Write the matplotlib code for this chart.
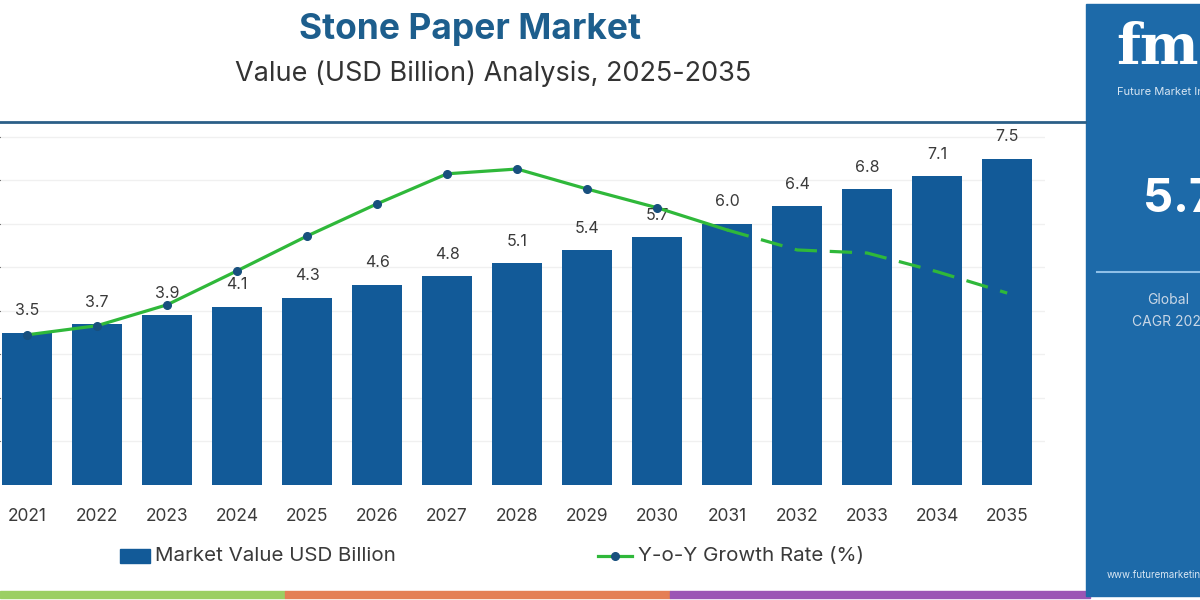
import matplotlib
matplotlib.use("Agg")
import matplotlib.pyplot as plt
from matplotlib.patches import Rectangle
from matplotlib.lines import Line2D

plt.rcParams['font.family'] = ['Inter', 'DejaVu Sans']

years = ["2021", "2022", "2023", "2024", "2025", "2026", "2027", "2028",
         "2029", "2030", "2031", "2032", "2033", "2034", "2035"]
market_value = [3.5, 3.7, 3.9, 4.1, 4.3, 4.6, 4.8, 5.1, 5.4, 5.7, 6.0, 6.4, 6.8, 7.1, 7.5]
yoy_growth = [3.45, 3.66, 4.14, 4.92, 5.72, 6.46, 7.15, 7.26, 6.80, 6.37,
              5.86, 5.40, 5.33, 4.90, 4.41]
value_labels = ["3.5", "3.7", "3.9", "4.1", "4.3", "4.6", "4.8", "5.1", "5.4",
                "5.7", "6.0", "6.4", "6.8", "7.1", "7.5"]
solid_end = 10  # index where the forecast (dashed) segment begins

BAR = "#125a98"
GREEN = "#2fb83a"
MARK = "#18507e"
TXT = "#3a3a3a"

W, H = 1200, 600
fig = plt.figure(figsize=(12, 6), dpi=100)

def fx(px):
    return px / W

def fy(py):
    return 1 - py / H

# main axes
ax = fig.add_axes([0, fy(485), fx(1045), fy(122) - fy(485)])
x = list(range(len(years)))
ax.bar(x, market_value, width=0.71, color=BAR, zorder=2)
ax.set_xlim(-0.386, 14.54)
ax.set_ylim(0, 8.34)
ax.set_yticks(range(1, 9))
ax.yaxis.grid(True, color="#f0f0f0", linewidth=1, zorder=0)
ax.set_axisbelow(True)
ax.tick_params(axis='y', left=False, labelleft=False)
ax.tick_params(axis='x', bottom=False, labelsize=12.5, labelcolor=TXT, pad=13)
ax.set_xticks(x)
ax.set_xticklabels(years)
for s in ax.spines.values():
    s.set_visible(False)
for xi, v, lab in zip(x, market_value, value_labels):
    ax.text(xi, v + 0.33, lab, ha='center', va='bottom', fontsize=11.5, color=TXT, zorder=4)

ax2 = ax.twinx()
ax2.set_ylim(0, 8.34)
ax2.axis('off')
ax2.plot(x[:solid_end + 1], yoy_growth[:solid_end + 1], color=GREEN, lw=2.3, zorder=3)
ax2.plot(x[solid_end:], yoy_growth[solid_end:], color=GREEN, lw=2.3, ls=(0, (7, 4)), zorder=3)
ax2.plot(x[:solid_end], yoy_growth[:solid_end], ls='none', marker='o', ms=5.5,
         color=MARK, zorder=4)

# titles
fig.text(fx(470), fy(30), "Stone Paper Market", ha='center', va='center',
         fontsize=25.5, fontweight='bold', color="#1d5e8d")
fig.text(fx(493), fy(74), "Value (USD Billion) Analysis, 2025-2035", ha='center', va='center',
         fontsize=19.5, color="#333333")
fig.lines.append(Line2D([0, fx(1085)], [fy(122), fy(122)], transform=fig.transFigure,
                        color="#2b5f87", lw=2))

# legend
fig.patches.append(Rectangle((fx(120), fy(563)), fx(30), fy(549) - fy(563),
                             transform=fig.transFigure, color=BAR))
fig.text(fx(155), fy(556), "Market Value USD Billion", ha='left', va='center',
         fontsize=14.8, color=TXT)
fig.lines.append(Line2D([fx(598), fx(632)], [fy(556), fy(556)], transform=fig.transFigure,
                        color=GREEN, lw=2.3))
fig.lines.append(Line2D([fx(615)], [fy(556)], transform=fig.transFigure, ls='none',
                        marker='o', ms=5.5, color=MARK))
fig.text(fx(638), fy(556), "Y-o-Y Growth Rate (%)", ha='left', va='center',
         fontsize=14.8, color=TXT)

# bottom stripes
for x0, x1, c in [(0, 285, "#9bcf63"), (285, 670, "#e47f55"), (670, 1090, "#9b55b5")]:
    fig.patches.append(Rectangle((fx(x0), fy(598)), fx(x1 - x0), fy(591) - fy(598),
                                 transform=fig.transFigure, color=c))

# right side panel
fig.patches.append(Rectangle((fx(1086), fy(596)), fx(W - 1086), fy(4) - fy(596),
                             transform=fig.transFigure, color="#1d6aa9"))
fig.text(fx(1116), fy(48), "fmi", ha='left', va='center', fontsize=40, fontweight='bold',
         family=['DejaVu Serif'], color="white")
fig.text(fx(1117), fy(92), "Future Market Insights", ha='left', va='center', fontsize=8,
         color="#d8e6f3")
fig.text(fx(1143), fy(200), "5.7%", ha='left', va='center', fontsize=34, fontweight='bold',
         color="white")
fig.lines.append(Line2D([fx(1097), 1.0], [fy(272), fy(272)], transform=fig.transFigure,
                        color="#8fc0e8", lw=1.5))
fig.text(fx(1147), fy(300), "Global", ha='left', va='center', fontsize=10, color="#c9d7e6")
fig.text(fx(1132), fy(322), "CAGR 2025-2035", ha='left', va='center', fontsize=10,
         color="#c9d7e6")
fig.text(fx(1107), fy(575), "www.futuremarketinsights.com", ha='left', va='center',
         fontsize=7, color="#d8e6f3")

fig.savefig("out.png", dpi=100)
